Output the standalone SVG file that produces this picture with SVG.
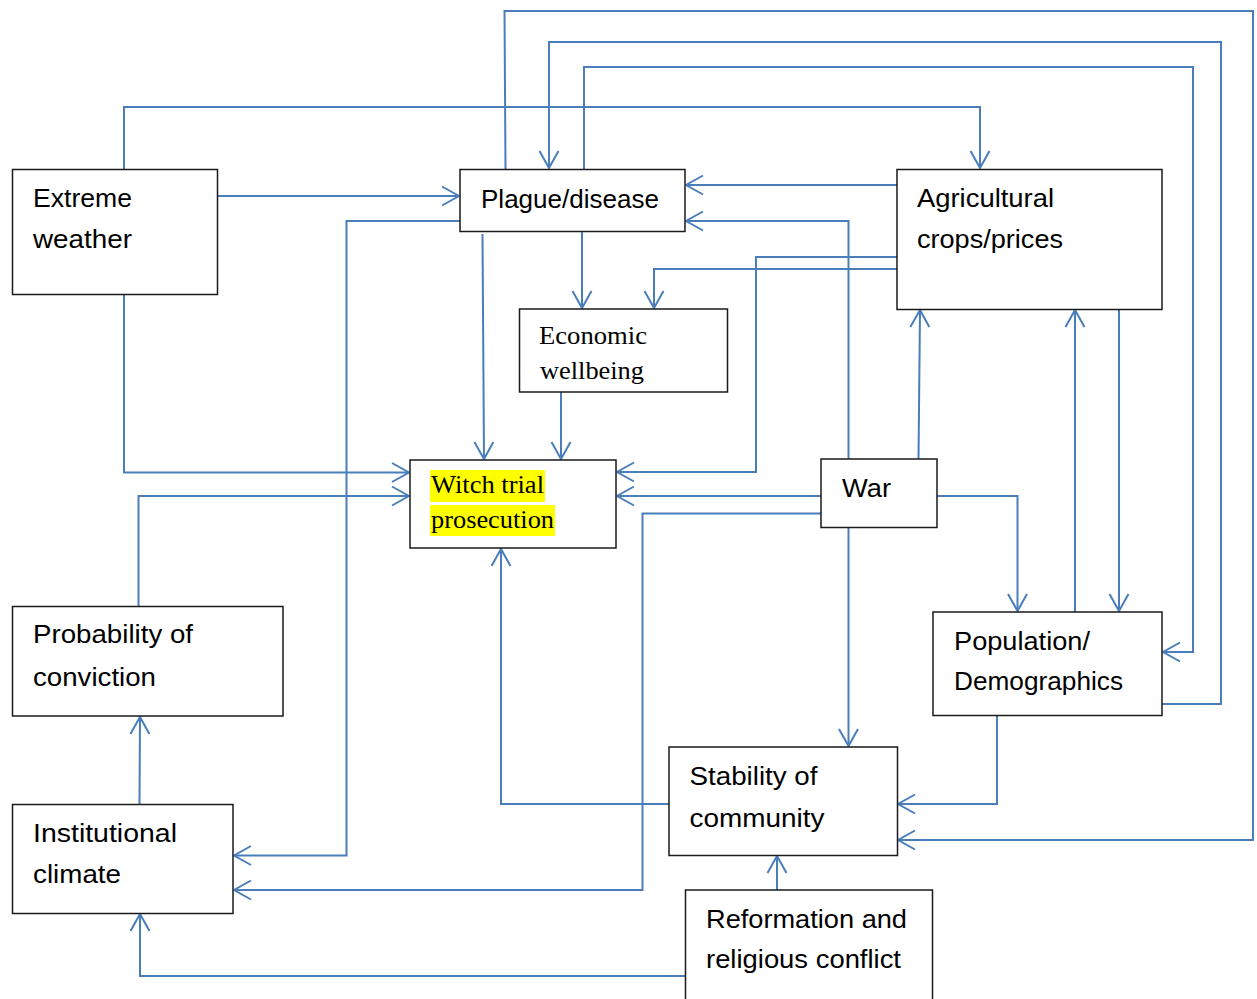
<svg xmlns="http://www.w3.org/2000/svg" width="1257" height="999" viewBox="0 0 1257 999">
<style>
.c{fill:none;stroke:#4A7EBB;stroke-width:2;marker-end:url(#ah)}
.n{fill:none;stroke:#4A7EBB;stroke-width:2}
.b{fill:#fff;stroke:#1a1a1a;stroke-width:1.5}
.t{font-family:"Liberation Sans",Arial,sans-serif;font-size:26px;fill:#000}
.s{font-family:"Liberation Serif","Times New Roman",serif;font-size:26px;fill:#000}
</style>
<defs>
<marker id="ah" markerUnits="userSpaceOnUse" viewBox="-20 -12 22 24" refX="0" refY="0" markerWidth="22" markerHeight="24" orient="auto">
<path d="M-17,-9.5 L0,0 L-17,9.5" fill="none" stroke="#4A7EBB" stroke-width="2"/>
</marker>
</defs>
<g id="connectors">
<path class="c" d="M124,169 V107 H980 V168"/>
<path class="c" d="M217,196 H459"/>
<path class="c" d="M124,294 V472.5 H409"/>
<path class="c" d="M460,221 H346.5 V855.5 H234"/>
<path class="c" d="M138.5,606 V496 H409"/>
<path class="c" d="M139.5,804 L140,717"/>
<path class="c" d="M685,976 H140 V914"/>
<path class="c" d="M777,890 V856"/>
<path class="c" d="M505.5,169 L504.5,11 H1253 V840 H898"/>
<path class="c" d="M1162,704 H1221 V42 H549 V168"/>
<path class="c" d="M584,169 V67 H1193 V652 H1163"/>
<path class="c" d="M897,185 H686"/>
<path class="c" d="M848.5,459 V221 H686"/>
<path class="c" d="M897,257 H756 V472 H617"/>
<path class="c" d="M897,269 H654 V308"/>
<path class="c" d="M582,231 V308"/>
<path class="c" d="M482.5,234 L484,459"/>
<path class="c" d="M561,392 V459"/>
<path class="c" d="M821,496 H617"/>
<path class="c" d="M821,513.5 H642.5 V890 H234"/>
<path class="c" d="M918.5,459 L920,310"/>
<path class="c" d="M937,496 H1017.5 V611"/>
<path class="c" d="M848.5,528 V746"/>
<path class="c" d="M1075,612 V310"/>
<path class="c" d="M1119,309 V611"/>
<path class="c" d="M669,804 H501 V549"/>
<path class="c" d="M997,716 V804 H898"/>
</g>
<g id="extreme-weather">
<rect class="b" x="12.5" y="169.5" width="205" height="125"/>
<text class="t" x="33" y="207" textLength="99" lengthAdjust="spacingAndGlyphs">Extreme</text>
<text class="t" x="33" y="248" textLength="99" lengthAdjust="spacingAndGlyphs">weather</text>
</g>
<g id="plague-disease">
<rect class="b" x="460" y="169.5" width="225" height="62"/>
<text class="t" x="481" y="208" textLength="178" lengthAdjust="spacingAndGlyphs">Plague/disease</text>
</g>
<g id="agricultural">
<rect class="b" x="897" y="169.5" width="265" height="140"/>
<text class="t" x="917" y="207" textLength="137" lengthAdjust="spacingAndGlyphs">Agricultural</text>
<text class="t" x="917" y="248" textLength="146" lengthAdjust="spacingAndGlyphs">crops/prices</text>
</g>
<g id="economic-wellbeing">
<rect class="b" x="519.5" y="309" width="208" height="83"/>
<text class="s" x="539" y="344" textLength="108" lengthAdjust="spacingAndGlyphs">Economic</text>
<text class="s" x="540" y="379" textLength="104" lengthAdjust="spacingAndGlyphs">wellbeing</text>
</g>
<g id="witch-trial">
<rect class="b" x="410" y="460" width="206" height="88"/>
<rect x="430" y="470" width="115" height="32" fill="#FFFF00"/>
<rect x="430" y="505" width="125" height="31" fill="#FFFF00"/>
<text class="s" x="431" y="493" textLength="113" lengthAdjust="spacingAndGlyphs">Witch trial</text>
<text class="s" x="431" y="528" textLength="123" lengthAdjust="spacingAndGlyphs">prosecution</text>
</g>
<g id="war">
<rect class="b" x="821" y="459" width="116" height="68.5"/>
<text class="t" x="842" y="497" textLength="49" lengthAdjust="spacingAndGlyphs">War</text>
</g>
<g id="population">
<rect class="b" x="933" y="612" width="229" height="103.5"/>
<text class="t" x="954" y="650" textLength="136" lengthAdjust="spacingAndGlyphs">Population/</text>
<text class="t" x="954" y="690" textLength="169" lengthAdjust="spacingAndGlyphs">Demographics</text>
</g>
<g id="probability-of-conviction">
<rect class="b" x="12.5" y="606.5" width="270.5" height="109.5"/>
<text class="t" x="33" y="643" textLength="160" lengthAdjust="spacingAndGlyphs">Probability of</text>
<text class="t" x="33" y="686" textLength="123" lengthAdjust="spacingAndGlyphs">conviction</text>
</g>
<g id="institutional-climate">
<rect class="b" x="12.5" y="804.5" width="220.5" height="109"/>
<text class="t" x="33" y="842" textLength="144" lengthAdjust="spacingAndGlyphs">Institutional</text>
<text class="t" x="33" y="883" textLength="88" lengthAdjust="spacingAndGlyphs">climate</text>
</g>
<g id="stability-of-community">
<rect class="b" x="669" y="747" width="228.5" height="108.5"/>
<text class="t" x="689.5" y="785" textLength="128" lengthAdjust="spacingAndGlyphs">Stability of</text>
<text class="t" x="689.5" y="827" textLength="135" lengthAdjust="spacingAndGlyphs">community</text>
</g>
<g id="reformation">
<rect class="b" x="685.5" y="890" width="247" height="120"/>
<text class="t" x="706" y="928" textLength="201" lengthAdjust="spacingAndGlyphs">Reformation and</text>
<text class="t" x="706" y="968" textLength="195" lengthAdjust="spacingAndGlyphs">religious conflict</text>
</g>
</svg>
